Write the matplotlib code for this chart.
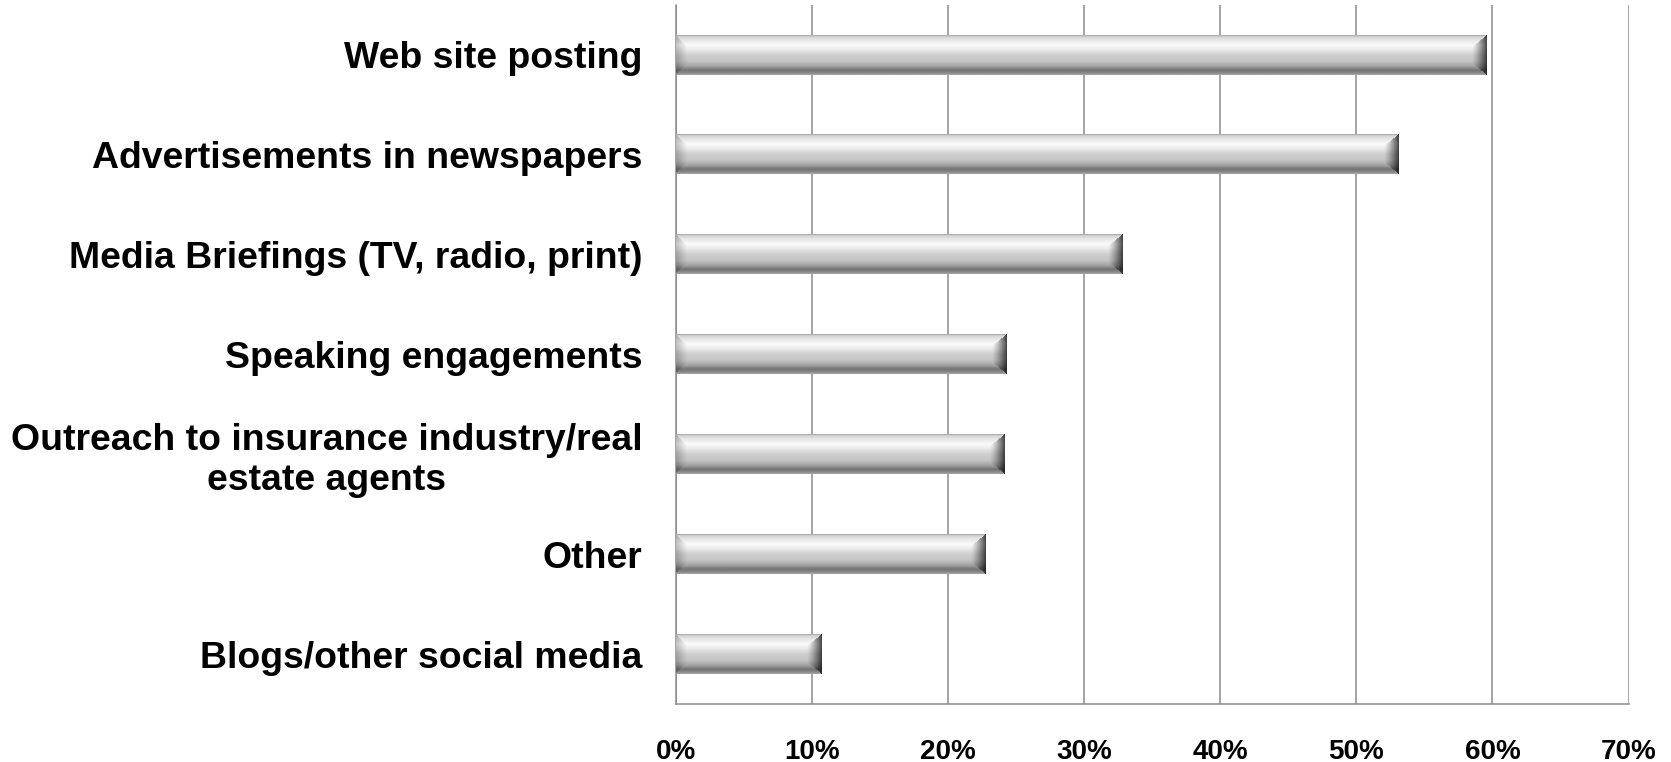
import numpy as np
import matplotlib
matplotlib.use("Agg")
import matplotlib.pyplot as plt
from matplotlib.ticker import FuncFormatter

categories = [
    "Web site posting",
    "Advertisements in newspapers",
    "Media Briefings (TV, radio, print)",
    "Speaking engagements",
    "Outreach to insurance industry/real\nestate agents",
    "Other",
    "Blogs/other social media",
]
values = [59.5, 53.1, 32.8, 24.3, 24.1, 22.7, 10.7]
xticks = [0, 10, 20, 30, 40, 50, 60, 70]

plt.rcParams['font.family'] = ['Liberation Sans', 'DejaVu Sans']

W, H, DPI = 1671, 762, 100
fig = plt.figure(figsize=(W / DPI, H / DPI), dpi=DPI)
ax = fig.add_axes([0.4043, 0.0761, 0.5703, 0.9173])

n = len(categories)
ypos = np.arange(n)
bar_h = 0.394
ax.set_xlim(0, 70)
ax.set_ylim(n - 0.5, -0.5)

grid_c = '#8c8c8c'
ax.set_xticks(xticks)
ax.xaxis.set_major_formatter(FuncFormatter(lambda v, p: f"{int(round(v))}%"))
ax.grid(axis='x', color=grid_c, linewidth=1.1, zorder=0)
ax.set_axisbelow(True)
for s in ['top', 'right']:
    ax.spines[s].set_visible(False)
for s in ['left', 'bottom']:
    ax.spines[s].set_color(grid_c)
    ax.spines[s].set_linewidth(1.1)
ax.tick_params(axis='both', length=0)
ax.tick_params(axis='x', pad=25, labelsize=20)
ax.tick_params(axis='y', pad=24, labelsize=26.9)
ax.set_yticks(ypos)
ax.set_yticklabels(categories, fontweight='bold')
for lab in ax.get_yticklabels():
    lab.set_multialignment('center')
    lab.set_linespacing(1.17)
for lab in ax.get_xticklabels():
    lab.set_fontweight('bold')

bars = ax.barh(ypos, values, height=bar_h, color='#c8c8c8', zorder=2)

# vertical shading profile (top -> bottom)
stops_t = [0.0, 0.04, 0.12, 0.25, 0.36, 0.5, 0.65, 0.78, 0.88, 0.95, 1.0]
stops_v = [0.62, 0.82, 0.90, 0.98, 0.92, 0.81, 0.77, 0.64, 0.45, 0.54, 0.66]

fig.canvas.draw()
axw_px = ax.get_window_extent().width
axh_px = ax.get_window_extent().height
px_per_x = axw_px / 70.0
px_per_y = axh_px / n

for rect in bars:
    x0 = rect.get_x()
    wv = rect.get_width()
    y0 = rect.get_y()
    hv = rect.get_height()
    wpx = max(int(round(wv * px_per_x)), 2)
    hpx = max(int(round(hv * px_per_y)), 2)
    xs = np.arange(wpx) + 0.5
    ys = np.arange(hpx) + 0.5
    X, Y = np.meshgrid(xs, ys)
    t = Y / hpx
    base = np.interp(t, stops_t, stops_v)
    dx_r = wpx - X
    dx_l = X
    dy = np.minimum(Y, hpx - Y)
    br, bl = 15.0, 11.0
    shade = base.copy()
    right = (dx_r < br) & (dx_r < dy * 1.25)
    fr = 1 - dx_r / br
    shade = np.where(right, base * (1 - 0.72 * fr ** 1.3), shade)
    left = (dx_l < bl) & (dx_l < dy * 1.0) & ~right
    fl = 1 - dx_l / bl
    shade = np.where(left, base * (1 - 0.22 * fl), shade)
    img = np.clip(shade, 0, 1)
    ax.imshow(img, cmap='gray', vmin=0, vmax=1, aspect='auto',
              extent=(x0, x0 + wv, y0 + hv, y0), interpolation='bilinear',
              zorder=3)

ax.set_xlim(0, 70)
ax.set_ylim(n - 0.5, -0.5)

fig.savefig('out.png', dpi=DPI, facecolor='white')
